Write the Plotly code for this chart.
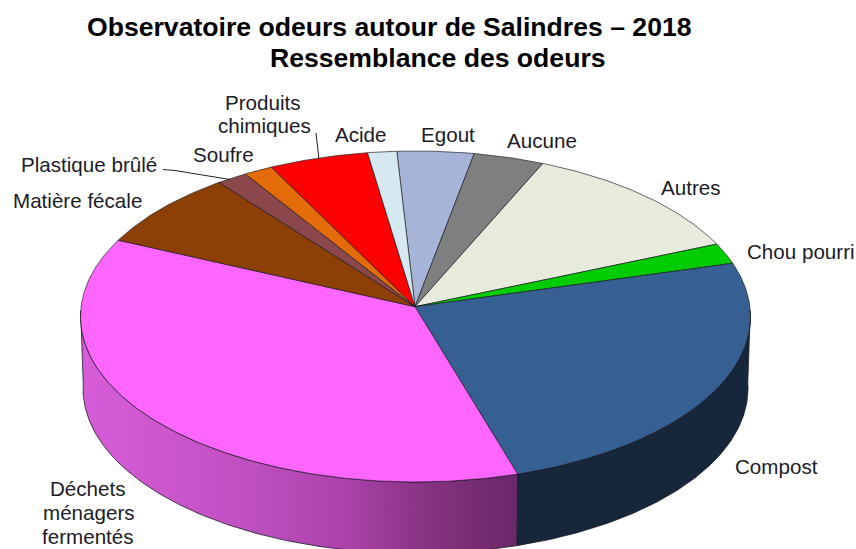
import numpy as np
import plotly.graph_objects as go

# Data, clockwise from just left of the top of the pie (%)
categories = ["Egout", "Aucune", "Autres", "Chou pourri", "Compost",
              "Déchets ménagers fermentés", "Matière fécale", "Plastique brûlé",
              "Soufre", "Produits chimiques", "Acide"]
values = [3.7, 3.4, 11.6, 2.0, 25.3, 37.6, 7.4, 1.5, 1.4, 4.8, 1.4]
colors = ["#A6B5D7", "#7F7F7F", "#E6EBDB", "#00CC00", "#376092",
          "#FF66FF", "#8C4006", "#8B474B", "#E36C09", "#FF0000", "#D6E8F0"]
title_lines = ["Observatoire odeurs autour de Salindres – 2018", "Ressemblance des odeurs"]

W, H = 856, 549
# Projected pie geometry (pixels)
XC, YC, RX, RY = 415.5, 316.5, 335.0, 165.5
PX, PY = 415.0, 306.7          # perspective pivot of the slices
BXC, BYC, BRX, BRY = 415.5, 388.5, 332.5, 165.0
START = -3.2

def arc(a0, a1, xc=XC, yc=YC, rx=RX, ry=RY):
    t = np.radians(np.linspace(a0, a1, max(int(abs(a1 - a0) * 2), 3)))
    return xc + rx * np.sin(t), yc - ry * np.cos(t)

edges = START + np.concatenate([[0], np.cumsum(values)]) / sum(values) * 360
fig = go.Figure()
EDGE = "rgba(20,20,30,0.8)"

# Pie side walls (only the slices facing the viewer)
i_compost = categories.index("Compost")
a_seam = edges[i_compost + 1]

def wall(a0, a1, **kw):
    x1, y1 = arc(a0, a1)
    x2, y2 = arc(a0, a1, BXC, BYC, BRX, BRY)
    fig.add_trace(go.Scatter(x=np.r_[x1, x2[::-1], x1[0]], y=np.r_[y1, y2[::-1], y1[0]],
                             mode="lines", fill="toself", hoverinfo="skip",
                             line=dict(color="#1a1a24", width=0.8), **kw))

wall(88, a_seam, fillcolor="#16263B")
wall(a_seam, 272, fillgradient=dict(
    type="horizontal", start=80, stop=518,
    colorscale=[[0, "#D75CD9"], [0.35, "#C251C4"], [0.6, "#AC43AB"],
                [0.8, "#86327F"], [1, "#692868"]]))

# Top face slices
for i, (name, col) in enumerate(zip(categories, colors)):
    ax, ay = arc(edges[i], edges[i + 1])
    fig.add_trace(go.Scatter(x=np.r_[PX, ax, PX], y=np.r_[PY, ay, PY], mode="lines",
                             fill="toself", fillcolor=col, name=name,
                             line=dict(color=EDGE, width=0.8), hoverinfo="name"))

# Leader lines
fig.add_trace(go.Scatter(x=[316, 319], y=[133, 159], mode="lines", hoverinfo="skip",
                         line=dict(color="#222222", width=1)))
fig.add_trace(go.Scatter(x=[163, 175, 230], y=[169.5, 170.5, 179.5], mode="lines", hoverinfo="skip",
                         line=dict(color="#222222", width=1)))

# Labels: (text, centre x, centre y)
label_lines = [("Produits", 263, 102), ("chimiques", 264, 125), ("Acide", 361, 134),
               ("Egout", 448, 134), ("Aucune", 542, 140), ("Autres", 691, 187),
               ("Chou\u00a0pourri", 801, 251), ("Compost", 776, 466),
               ("Déchets", 88, 488), ("ménagers", 89, 512), ("fermentés", 88, 536),
               ("Matière\u00a0fécale", 77, 200), ("Plastique\u00a0brûlé", 89, 164),
               ("Soufre", 223, 154)]
for text, x, y in label_lines:
    fig.add_annotation(x=x, y=y, text=text, showarrow=False, xanchor="center", yanchor="middle",
                       font=dict(family="Liberation Sans", size=20.6, color="#1c1c28"))
for text, x, y in zip(title_lines, (389.5, 437.5), (27, 58)):
    fig.add_annotation(x=x, y=y, text=f"<b>{text}</b>", showarrow=False, xanchor="center",
                       yanchor="middle", font=dict(family="Liberation Sans", size=26.6, color="#000000"))

fig.update_layout(width=W, height=H, margin=dict(l=0, r=0, t=0, b=0), showlegend=False,
                  paper_bgcolor="white", plot_bgcolor="white",
                  xaxis=dict(range=[0, W], visible=False, fixedrange=True),
                  yaxis=dict(range=[H, 0], visible=False, fixedrange=True))
fig.write_html("out.html", config=dict(displayModeBar=False),
               post_script="document.body.style.margin='0';document.documentElement.style.overflow='hidden';")
